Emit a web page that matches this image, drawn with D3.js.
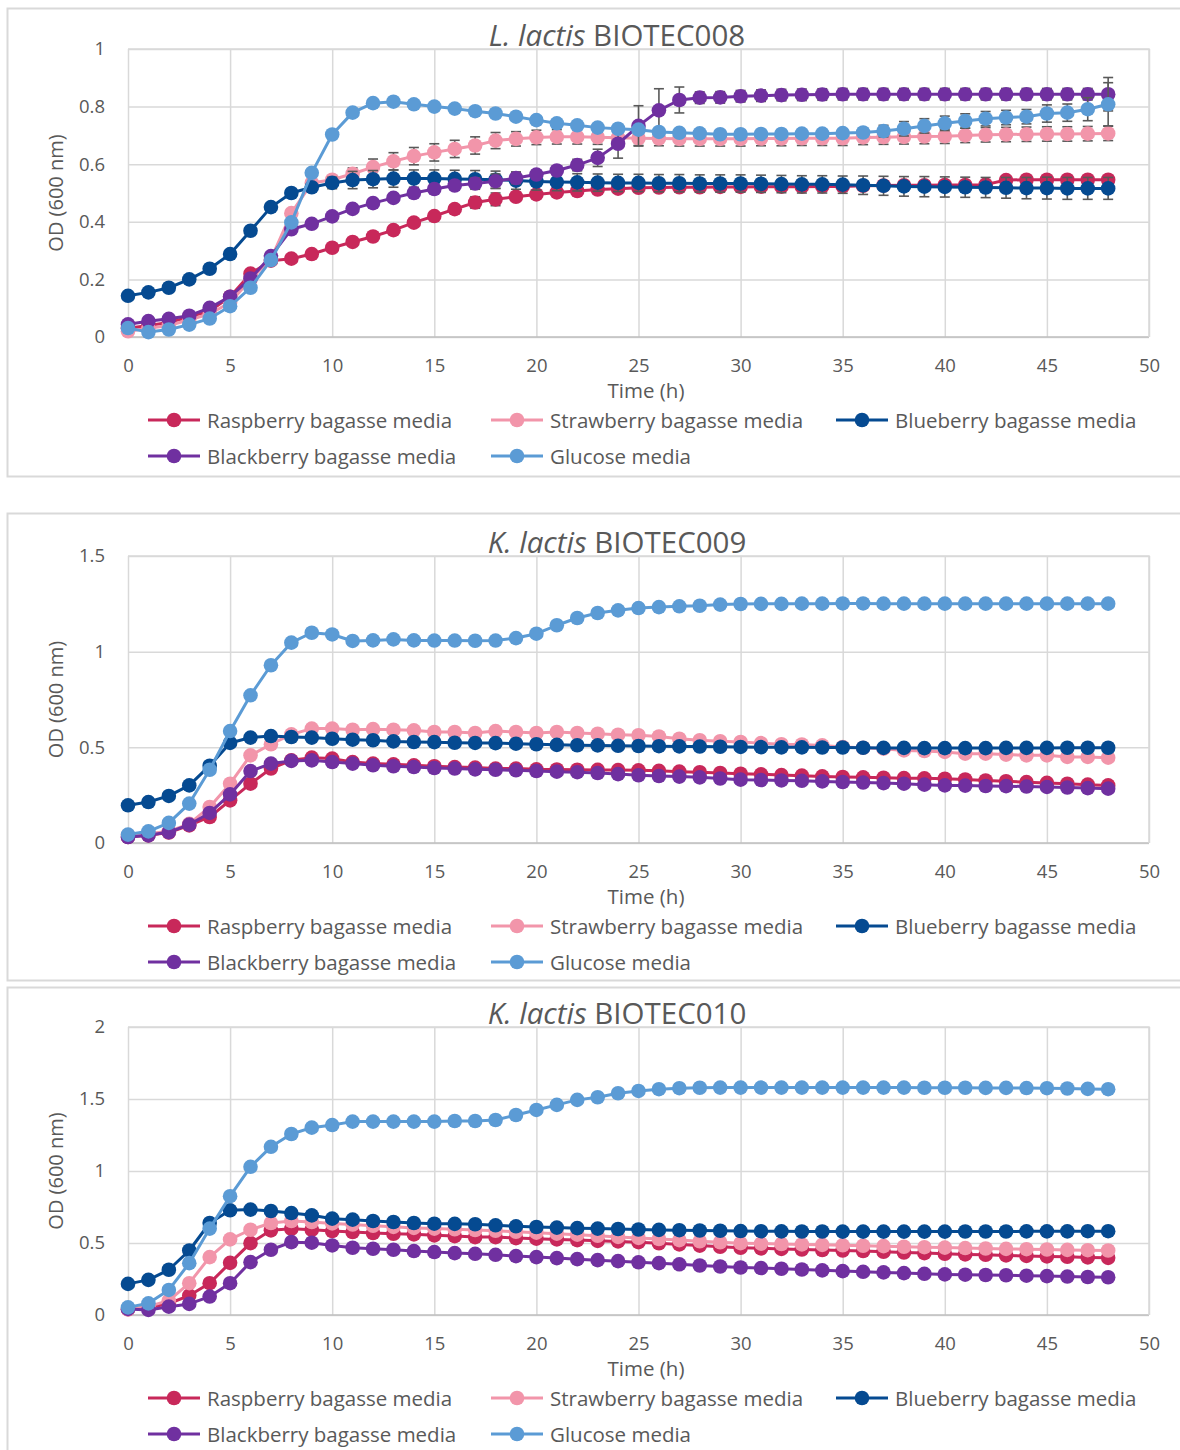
<!DOCTYPE html>
<html>
<head>
<meta charset="utf-8">
<script src="https://cdn.jsdelivr.net/npm/d3@7"></script>
<style>
  body { margin: 0; background: #ffffff; }
  svg { display: block; }
  text { font-family: "Open Sans", "Noto Sans", sans-serif; fill: #595959; }
</style>
</head>
<body>
<svg id="chart" width="1180" height="1450"></svg>
<script>
// ---- data -----------------------------------------------------------------
const hours = [0,1,2,3,4,5,6,7,8,9,10,11,12,13,14,15,16,17,18,19,20,21,22,23,24,
               25,26,27,28,29,30,31,32,33,34,35,36,37,38,39,40,41,42,43,44,45,46,47,48];
const seriesNames = ["Raspberry bagasse media", "Strawberry bagasse media",
                     "Blueberry bagasse media", "Blackberry bagasse media", "Glucose media"];
const xTicks = [0,5,10,15,20,25,30,35,40,45,50];
const yTicks008 = [0,0.2,0.4,0.6,0.8,1];
const yTicks009 = [0,0.5,1,1.5];
const yTicks010 = [0,0.5,1,1.5,2];

// L. lactis BIOTEC008 — OD600 means
const rasp008 = [0.03,0.04,0.05,0.07,0.09,0.14,0.22,0.265,0.272,0.288,0.31,0.33,0.349,0.371,0.397,0.42,0.444,0.467,0.478,0.487,
                 0.495,0.502,0.507,0.512,0.515,0.518,0.519,0.52,0.52,0.521,0.521,0.522,0.522,0.522,0.523,0.523,0.525,0.526,0.527,0.527,
                 0.528,0.528,0.529,0.545,0.546,0.546,0.546,0.546,0.546];
const straw008 = [0.02,0.03,0.04,0.06,0.08,0.12,0.2,0.27,0.43,0.535,0.546,0.567,0.59,0.61,0.628,0.641,0.653,0.665,0.682,0.688,
                  0.693,0.695,0.695,0.694,0.692,0.69,0.689,0.688,0.688,0.688,0.688,0.689,0.689,0.69,0.69,0.69,0.693,0.694,0.695,0.696,
                  0.697,0.7,0.702,0.703,0.704,0.705,0.705,0.706,0.707];
const blue008 = [0.143,0.155,0.171,0.2,0.237,0.288,0.369,0.451,0.5,0.52,0.535,0.545,0.548,0.55,0.55,0.55,0.549,0.548,0.546,0.543,
                 0.54,0.538,0.537,0.536,0.535,0.535,0.534,0.534,0.533,0.533,0.533,0.532,0.531,0.53,0.53,0.529,0.527,0.525,0.523,0.522,
                 0.521,0.52,0.519,0.518,0.517,0.517,0.516,0.516,0.516];
const black008 = [0.044,0.055,0.063,0.074,0.101,0.14,0.203,0.281,0.374,0.393,0.419,0.445,0.465,0.483,0.5,0.514,0.526,0.533,0.541,0.552,
                  0.564,0.578,0.597,0.622,0.671,0.733,0.787,0.823,0.831,0.832,0.836,0.838,0.84,0.841,0.842,0.843,0.843,0.843,0.843,0.843,
                  0.843,0.843,0.843,0.843,0.843,0.843,0.843,0.843,0.843];
const gluc008 = [0.031,0.017,0.026,0.043,0.064,0.107,0.171,0.267,0.398,0.57,0.703,0.779,0.812,0.817,0.808,0.8,0.793,0.784,0.776,0.765,
                 0.753,0.742,0.735,0.727,0.723,0.72,0.712,0.709,0.707,0.704,0.704,0.705,0.705,0.706,0.706,0.708,0.71,0.715,0.723,0.733,
                 0.742,0.75,0.758,0.762,0.765,0.776,0.779,0.791,0.808];

// L. lactis BIOTEC008 — standard deviations
const raspErr008 = [0,0,0,0,0,0,0,0,0,0,0,0,0,0,0,0,0.015,0.02,0.022,0.015,
                    0,0,0,0,0,0,0,0,0,0,0,0,0,0,0,0,0,0,0,0,
                    0,0,0,0,0,0,0,0,0];
const strawErr008 = [0,0,0,0,0,0,0,0,0,0,0.01,0.02,0.028,0.03,0.03,0.03,0.03,0.03,0.028,0.025,
                     0.025,0.025,0.025,0.025,0.025,0.025,0.025,0.025,0.025,0.025,0.025,0.025,0.025,0.025,0.025,0.025,0.025,0.025,0.025,0.025,
                     0.025,0.025,0.025,0.025,0.025,0.025,0.025,0.025,0.025];
const blueErr008 = [0,0,0,0,0,0,0,0,0,0,0.02,0.03,0.03,0.03,0.03,0.03,0.03,0.03,0.03,0.03,
                    0.03,0.03,0.03,0.03,0.03,0.03,0.03,0.03,0.03,0.03,0.03,0.03,0.03,0.03,0.03,0.03,0.032,0.033,0.034,0.035,
                    0.035,0.035,0.035,0.036,0.037,0.038,0.038,0.038,0.038];
const blackErr008 = [0,0,0,0,0,0,0,0,0,0,0,0,0,0,0,0,0.015,0.02,0.025,0.02,
                     0.015,0.015,0.02,0.03,0.05,0.07,0.075,0.045,0.02,0.02,0.02,0.02,0.02,0.02,0.02,0.02,0.02,0.02,0.02,0.02,
                     0.02,0.02,0.02,0.02,0.02,0.02,0.02,0.02,0.058];
const glucErr008 = [0,0,0,0,0,0,0,0,0,0,0,0,0,0,0,0,0,0,0,0,
                    0,0,0,0,0,0,0,0,0,0,0,0,0,0,0,0,0.015,0.02,0.025,0.025,
                    0.025,0.025,0.025,0.025,0.025,0.03,0.03,0.04,0.075];

// K. lactis BIOTEC009 — OD600 means
const rasp009 = [0.031,0.04,0.055,0.092,0.136,0.223,0.31,0.389,0.432,0.446,0.441,0.423,0.415,0.411,0.406,0.401,0.397,0.394,0.389,0.389,
                 0.385,0.384,0.383,0.382,0.381,0.38,0.377,0.373,0.37,0.366,0.362,0.359,0.355,0.352,0.348,0.345,0.343,0.341,0.339,0.338,
                 0.336,0.332,0.327,0.323,0.318,0.314,0.31,0.305,0.301];
const straw009 = [0.04,0.05,0.06,0.1,0.188,0.31,0.458,0.516,0.568,0.598,0.598,0.592,0.595,0.592,0.589,0.58,0.58,0.575,0.585,0.58,
                  0.575,0.58,0.575,0.571,0.566,0.563,0.557,0.545,0.537,0.532,0.528,0.522,0.516,0.515,0.51,0.502,0.498,0.493,0.484,0.481,
                  0.476,0.467,0.467,0.462,0.458,0.458,0.45,0.45,0.446];
const blue009 = [0.197,0.214,0.246,0.301,0.404,0.523,0.551,0.559,0.554,0.551,0.545,0.54,0.537,0.531,0.528,0.527,0.524,0.523,0.522,0.519,
                 0.516,0.513,0.511,0.51,0.508,0.507,0.506,0.505,0.504,0.503,0.502,0.501,0.5,0.5,0.499,0.499,0.498,0.497,0.497,0.496,
                 0.496,0.496,0.496,0.497,0.497,0.497,0.498,0.498,0.498];
const black009 = [0.031,0.04,0.057,0.096,0.157,0.254,0.376,0.415,0.429,0.432,0.423,0.415,0.406,0.401,0.397,0.392,0.389,0.385,0.383,0.38,
                  0.376,0.373,0.37,0.366,0.36,0.354,0.35,0.347,0.343,0.337,0.331,0.329,0.327,0.325,0.322,0.319,0.316,0.313,0.31,0.305,
                  0.301,0.3,0.298,0.297,0.295,0.293,0.29,0.287,0.284];
const gluc009 = [0.044,0.061,0.105,0.206,0.383,0.585,0.772,0.929,1.047,1.099,1.09,1.056,1.059,1.064,1.059,1.058,1.058,1.057,1.058,1.071,
                 1.094,1.138,1.176,1.202,1.216,1.228,1.233,1.237,1.24,1.246,1.249,1.25,1.25,1.251,1.251,1.252,1.252,1.251,1.251,1.251,
                 1.251,1.251,1.251,1.251,1.251,1.251,1.251,1.251,1.251];

// K. lactis BIOTEC010 — OD600 means
const rasp010 = [0.04,0.05,0.08,0.135,0.221,0.362,0.499,0.588,0.599,0.592,0.583,0.576,0.569,0.564,0.56,0.553,0.548,0.541,0.541,0.534,
                 0.53,0.525,0.52,0.515,0.511,0.506,0.498,0.49,0.482,0.474,0.467,0.463,0.459,0.455,0.451,0.448,0.444,0.439,0.434,0.43,
                 0.425,0.421,0.418,0.414,0.41,0.407,0.404,0.4,0.397];
const straw010 = [0.04,0.06,0.1,0.221,0.402,0.525,0.592,0.639,0.653,0.646,0.636,0.628,0.62,0.612,0.605,0.6,0.595,0.59,0.585,0.578,
                  0.572,0.565,0.558,0.55,0.542,0.535,0.528,0.52,0.512,0.505,0.499,0.496,0.493,0.49,0.487,0.484,0.481,0.478,0.474,0.471,
                  0.468,0.465,0.462,0.459,0.457,0.455,0.452,0.45,0.448];
const blue010 = [0.216,0.244,0.314,0.448,0.639,0.727,0.732,0.722,0.708,0.692,0.669,0.662,0.653,0.646,0.639,0.634,0.633,0.63,0.623,0.616,
                 0.611,0.607,0.603,0.6,0.597,0.594,0.591,0.589,0.587,0.585,0.583,0.582,0.581,0.58,0.58,0.579,0.579,0.579,0.579,0.579,
                 0.579,0.58,0.58,0.58,0.581,0.581,0.581,0.582,0.582];
const black010 = [0.042,0.035,0.058,0.077,0.128,0.221,0.367,0.453,0.506,0.502,0.483,0.467,0.46,0.453,0.444,0.437,0.43,0.425,0.418,0.409,
                  0.402,0.395,0.388,0.381,0.374,0.366,0.36,0.352,0.344,0.337,0.33,0.326,0.321,0.316,0.31,0.305,0.3,0.296,0.291,0.286,
                  0.282,0.28,0.278,0.276,0.273,0.27,0.267,0.264,0.262];
const gluc010 = [0.053,0.081,0.174,0.36,0.6,0.825,1.029,1.168,1.257,1.301,1.319,1.343,1.343,1.343,1.343,1.343,1.347,1.347,1.354,1.389,
                 1.424,1.459,1.494,1.512,1.54,1.556,1.568,1.575,1.578,1.579,1.579,1.579,1.579,1.579,1.579,1.579,1.579,1.579,1.579,1.578,
                 1.578,1.578,1.577,1.577,1.576,1.575,1.573,1.57,1.568];

// ---- styling and layout ---------------------------------------------------
const seriesColors = ["#C8285A", "#F295AA", "#054A91", "#7030A0", "#5B9BD5"];
const gridColor = "#d9d9d9";
const axisColor = "#bfbfbf";
const errColor = "#595959";

const panels = [
  { genus: "L. lactis", strain: " BIOTEC008", yMax: 1, yTicks: yTicks008,
    values: [rasp008, straw008, blue008, black008, gluc008],
    errors: [raspErr008, strawErr008, blueErr008, blackErr008, glucErr008],
    boxTop: 8, boxBottom: 476, plotTop: 49, plotBottom: 337 },
  { genus: "K. lactis", strain: " BIOTEC009", yMax: 1.5, yTicks: yTicks009,
    values: [rasp009, straw009, blue009, black009, gluc009], errors: null,
    boxTop: 513, boxBottom: 980, plotTop: 556, plotBottom: 843 },
  { genus: "K. lactis", strain: " BIOTEC010", yMax: 2, yTicks: yTicks010,
    values: [rasp010, straw010, blue010, black010, gluc010], errors: null,
    boxTop: 987, boxBottom: 1460, plotTop: 1027, plotBottom: 1315 }
];

const plotLeft = 128, plotRight = 1149;
const legendSlots = [[148, 0], [491, 0], [836, 0], [148, 1], [491, 1]];

const svg = d3.select("#chart");
const x = d3.scaleLinear().domain([0, 50]).range([plotLeft, plotRight]);

panels.forEach(p => {
  const g = svg.append("g");
  const y = d3.scaleLinear().domain([0, p.yMax]).range([p.plotBottom, p.plotTop]);
  const plotH = p.plotBottom - p.plotTop;
  const plotW = plotRight - plotLeft;

  // chart frame
  g.append("rect")
    .attr("x", 7.5).attr("y", p.boxTop + 0.5)
    .attr("width", 1200).attr("height", p.boxBottom - p.boxTop)
    .attr("fill", "#fff").attr("stroke", gridColor).attr("stroke-width", 2);

  // horizontal grid + y labels
  const yAxis = g.append("g")
    .attr("transform", `translate(${plotLeft},0)`)
    .call(d3.axisLeft(y).tickValues(p.yTicks).tickSize(-plotW).tickPadding(23)
          .tickFormat(d => String(d)));
  yAxis.select(".domain").remove();
  yAxis.selectAll("line").attr("stroke", gridColor).attr("stroke-width", 1.5);
  yAxis.selectAll("text").attr("font-size", 18.5).attr("fill", "#595959")
    .style("font-family", "'Open Sans', sans-serif");

  // vertical grid + x labels
  const xAxis = g.append("g")
    .attr("transform", `translate(0,${p.plotBottom})`)
    .call(d3.axisBottom(x).tickValues(xTicks).tickSize(-plotH).tickPadding(22)
          .tickFormat(d => String(d)));
  xAxis.select(".domain").remove();
  xAxis.selectAll("line").attr("stroke", gridColor).attr("stroke-width", 1.5);
  xAxis.selectAll("text").attr("font-size", 18.5).attr("fill", "#595959")
    .style("font-family", "'Open Sans', sans-serif");

  // bottom axis line
  g.append("line")
    .attr("x1", plotLeft).attr("x2", plotRight)
    .attr("y1", p.plotBottom).attr("y2", p.plotBottom)
    .attr("stroke", axisColor).attr("stroke-width", 1.5);

  // series: error bars, line, markers
  const line = d3.line().x(d => x(d.t)).y(d => y(d.v));
  p.values.forEach((vals, si) => {
    const pts = hours.map((t, i) => ({ t, v: vals[i], e: p.errors ? p.errors[si][i] : 0 }));
    const sg = g.append("g");
    const eb = pts.filter(d => d.e > 0);
    const bars = sg.append("g").attr("stroke", errColor).attr("stroke-width", 1.6);
    bars.selectAll("line.v").data(eb).join("line").attr("class", "v")
      .attr("x1", d => x(d.t)).attr("x2", d => x(d.t))
      .attr("y1", d => y(d.v - d.e)).attr("y2", d => y(d.v + d.e));
    bars.selectAll("line.top").data(eb).join("line").attr("class", "top")
      .attr("x1", d => x(d.t) - 5).attr("x2", d => x(d.t) + 5)
      .attr("y1", d => y(d.v + d.e)).attr("y2", d => y(d.v + d.e));
    bars.selectAll("line.bot").data(eb).join("line").attr("class", "bot")
      .attr("x1", d => x(d.t) - 5).attr("x2", d => x(d.t) + 5)
      .attr("y1", d => y(d.v - d.e)).attr("y2", d => y(d.v - d.e));
    sg.append("path").datum(pts)
      .attr("d", line).attr("fill", "none")
      .attr("stroke", seriesColors[si]).attr("stroke-width", 3)
      .attr("stroke-linejoin", "round");
    sg.selectAll("circle").data(pts).join("circle")
      .attr("cx", d => x(d.t)).attr("cy", d => y(d.v)).attr("r", 7.3)
      .attr("fill", seriesColors[si]);
  });

  // plot area outline (top/right)
  g.append("path")
    .attr("d", `M${plotLeft},${p.plotTop}H${plotRight}V${p.plotBottom}`)
    .attr("fill", "none").attr("stroke", gridColor).attr("stroke-width", 1.5);

  // title
  const title = g.append("text")
    .attr("x", 617).attr("y", p.plotTop - 15)
    .attr("text-anchor", "middle").attr("dominant-baseline", "central")
    .attr("font-size", 29.5);
  title.append("tspan").attr("font-style", "italic").text(p.genus);
  title.append("tspan").text(p.strain);

  // axis titles
  g.append("text")
    .attr("transform", `translate(55,${(p.plotTop + p.plotBottom) / 2}) rotate(-90)`)
    .attr("text-anchor", "middle").attr("dominant-baseline", "central")
    .attr("font-size", 20).text("OD (600 nm)");
  g.append("text")
    .attr("x", 646).attr("y", p.plotBottom + 53)
    .attr("text-anchor", "middle").attr("dominant-baseline", "central")
    .attr("font-size", 20.5).text("Time (h)");

  // legend
  seriesNames.forEach((name, si) => {
    const [lx, row] = legendSlots[si];
    const ly = p.plotBottom + 83 + row * 36;
    const lg = g.append("g");
    lg.append("line").attr("x1", lx).attr("x2", lx + 52).attr("y1", ly).attr("y2", ly)
      .attr("stroke", seriesColors[si]).attr("stroke-width", 3);
    lg.append("circle").attr("cx", lx + 26).attr("cy", ly).attr("r", 7.3)
      .attr("fill", seriesColors[si]);
    lg.append("text").attr("x", lx + 59).attr("y", ly)
      .attr("dominant-baseline", "central").attr("font-size", 20.5).text(name);
  });
});
</script>
</body>
</html>
